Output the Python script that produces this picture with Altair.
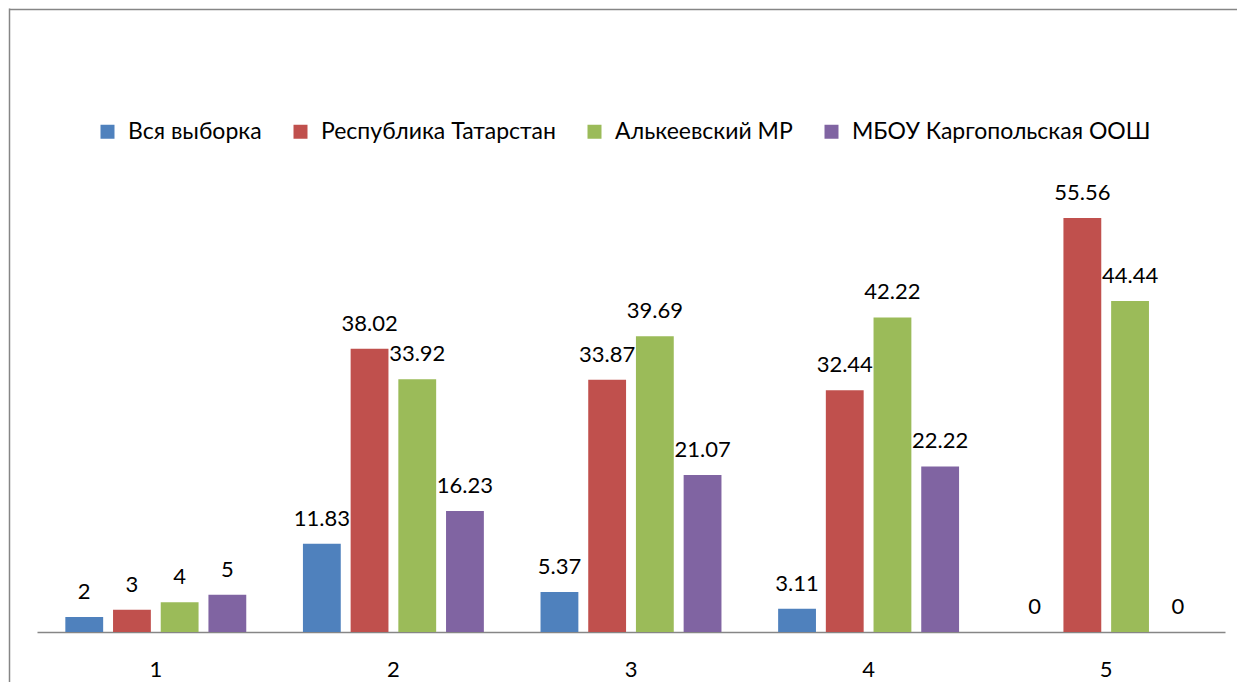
import altair as alt
import pandas as pd

categories = ["1", "2", "3", "4", "5"]
series = ["Вся выборка", "Республика Татарстан", "Алькеевский МР", "МБОУ Каргопольская ООШ"]
vals_all = [2, 11.83, 5.37, 3.11, 0]
vals_rt = [3, 38.02, 33.87, 32.44, 55.56]
vals_mr = [4, 33.92, 39.69, 42.22, 44.44]
vals_school = [5, 16.23, 21.07, 22.22, 0]
colors = ["#4F81BD", "#C0504D", "#9BBB59", "#8064A2"]

rows = []
for s, vals in zip(series, [vals_all, vals_rt, vals_mr, vals_school]):
    for c, v in zip(categories, vals):
        rows.append({"cat": c, "series": s, "value": v, "label": f"{v:g}"})
df = pd.DataFrame(rows)

FONT = "Lato, 'Open Sans', sans-serif"
W, H = 1228, 674
BASE = 624
FRAME = "#868686"

x = alt.X(
    "cat:N", sort=categories,
    scale=alt.Scale(range=[28, 1216], paddingInner=0, paddingOuter=0),
    axis=alt.Axis(title=None, labelAngle=0, ticks=False, domainColor=FRAME,
                  domainWidth=1.5, labelFontSize=22, labelColor="#000000",
                  labelFont=FONT, labelPadding=44, labelBaseline="alphabetic",
                  offset=BASE - H, grid=False),
)
xo = alt.XOffset("series:N", sort=series,
                 scale=alt.Scale(range=[0, 237.6], paddingInner=0.207, paddingOuter=0.594))
y = alt.Y("value:Q", scale=alt.Scale(domain=[0, 60], range=[BASE, BASE - 447]), axis=None)

bars = alt.Chart(df).mark_bar().encode(
    x=x, xOffset=xo, y=y,
    color=alt.Color(
        "series:N", sort=series,
        scale=alt.Scale(domain=series, range=colors),
        legend=alt.Legend(title=None, orient="none", legendX=87, legendY=112,
                          direction="horizontal", columns=4, symbolType="square",
                          symbolSize=196, symbolStrokeWidth=0, labelFontSize=23,
                          labelFont=FONT, labelColor="#000000", labelOffset=9,
                          columnPadding=27, labelLimit=600, padding=0),
    ),
)

text = alt.Chart(df).mark_text(
    dy=-18, baseline="alphabetic", fontSize=22, font=FONT, color="#000000"
).encode(x=x, xOffset=xo, y=y, text="label:N")

# outer chart frame (top and left edges; the rest lies beyond the window)
frame = alt.Chart(pd.DataFrame({"fx": [0], "fy": [0]})).mark_point(opacity=0).encode(
    x=alt.X("fx:Q", scale=alt.Scale(domain=[0, 1], range=[0, 1400]),
            axis=alt.Axis(orient="top", title=None, labels=False, ticks=False, grid=False,
                          domainColor=FRAME, domainWidth=1.5, offset=-1)),
    y=alt.Y("fy:Q", scale=alt.Scale(domain=[0, 1], range=[800, 0]),
            axis=alt.Axis(orient="left", title=None, labels=False, ticks=False, grid=False,
                          domainColor=FRAME, domainWidth=1.5)),
)

chart = alt.layer(alt.layer(bars, text), frame).resolve_scale(
    x="independent", y="independent"
).properties(
    width=W, height=H,
    autosize=alt.AutoSizeParams(type="none"),
    padding={"left": 1, "top": 0, "right": 0, "bottom": 0},
    background="white",
).configure_view(stroke=None)

chart.save("out.html", embed_options={"renderer": "svg", "actions": False})
